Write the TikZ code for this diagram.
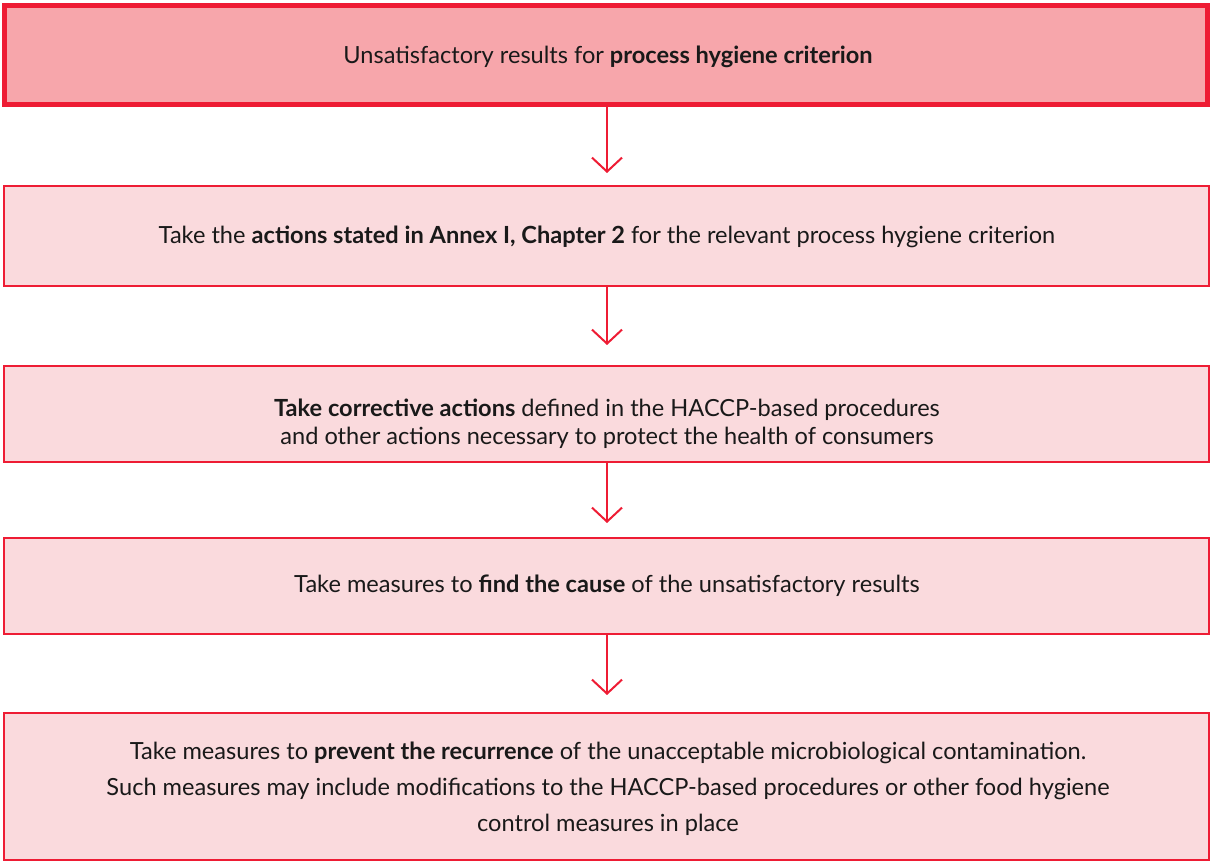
\documentclass[tikz,border=0pt]{standalone}
\usepackage{fontspec}
\setmainfont{Lato}
\usetikzlibrary{arrows.meta}
\definecolor{bred}{HTML}{EE1C34}
\definecolor{fillA}{HTML}{F7A6AB}
\definecolor{fillB}{HTML}{FADADD}
\tikzset{
  boxA/.style={draw=bred, fill=fillA, line width=5pt, minimum width=1203pt, minimum height=99pt, inner sep=0pt},
  boxB/.style={draw=bred, fill=fillB, line width=2pt, minimum width=1205pt, inner sep=0pt},
  txt/.style={font=\fontsize{23.6}{28}\selectfont, align=center, text=black!90, inner sep=0pt},
  arr/.style={draw=bred, line width=2pt, -{Straight Barb[length=14pt,width=30pt,line width=2pt]}}
}
\begin{document}
\begin{tikzpicture}[x=1pt,y=1pt]
\useasboundingbox (0,0) rectangle (1212,862);
\node[boxA] (b1) at (606,807) {};
\node[boxB, minimum height=100pt] (b2) at (606.5,626) {};
\node[boxB, minimum height=96pt] (b3) at (606.5,448) {};
\node[boxB, minimum height=96pt] (b4) at (606.5,276) {};
\node[boxB, minimum height=147pt] (b5) at (606.5,75.5) {};
\node[txt] (t1) at (608,805) {Unsatisfactory results for \textbf{process hygiene criterion}};
\node[txt] (t2) at (607,625) {Take the \textbf{actions stated in Annex I, Chapter 2} for the relevant process hygiene criterion};
\node[txt] (t3) at (607,438) {\textbf{Take corrective actions} defined in the HACCP-based procedures\\ and other actions necessary to protect the health of consumers};
\node[txt, font=\fontsize{23.6}{36}\selectfont] (t5) at (608,73) {Take measures to \textbf{prevent the recurrence} of the unacceptable microbiological contamination.\\ Such measures may include modifications to the HACCP-based procedures or other food hygiene\\ control measures in place};
\node[txt] (t4) at (607,276) {Take measures to \textbf{find the cause} of the unsatisfactory results};
\draw[arr, shorten >=12pt] (b1.south -| 607,0) -- (b2.north -| 607,0);
\draw[arr, shorten >=20pt] (b2.south -| 607,0) -- (b3.north -| 607,0);
\draw[arr, shorten >=14pt] (b3.south -| 607,0) -- (b4.north -| 607,0);
\draw[arr, shorten >=17pt] (b4.south -| 607,0) -- (b5.north -| 607,0);
\end{tikzpicture}
\end{document}
